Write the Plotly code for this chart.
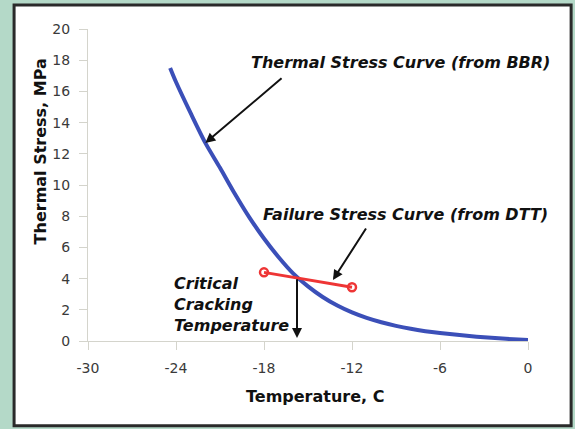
import plotly.graph_objects as go

# Thermal stress curve (from BBR)
bbr_temp = [-24.4, -24, -23, -22, -21, -20, -19, -18, -17, -16, -15, -14, -13, -12,
            -11, -10, -9, -8, -7, -6, -5, -4, -3, -2, -1, 0]
bbr_stress = [17.5, 16.6, 14.6, 12.7, 11.1, 9.45, 7.92, 6.57, 5.37, 4.32, 3.5, 2.82, 2.27, 1.83,
              1.48, 1.2, 0.97, 0.78, 0.63, 0.51, 0.41, 0.32, 0.24, 0.17, 0.11, 0.06]

# Failure stress curve (from DTT)
dtt_temp = [-18, -12]
dtt_stress = [4.4, 3.45]

# Critical cracking temperature
cct_temp = -15.75
cct_stress = 4.05

x_ticks = [-30, -24, -18, -12, -6, 0]
y_ticks = [0, 2, 4, 6, 8, 10, 12, 14, 16, 18, 20]

FONT = "DejaVu Sans"
ann_font = dict(family=FONT, size=16, color="#111111")

fig = go.Figure()
fig.add_trace(go.Scatter(x=bbr_temp, y=bbr_stress, mode="lines",
                         line=dict(color="#3b4fb8", width=4, shape="spline", smoothing=0.8),
                         hoverinfo="skip"))
fig.add_trace(go.Scatter(x=dtt_temp, y=dtt_stress, mode="lines+markers",
                         line=dict(color="#ee3535", width=3),
                         marker=dict(symbol="circle-open", size=8, color="#ee3535",
                                     line=dict(width=2.5, color="#ee3535")),
                         hoverinfo="skip"))

annotations = [
    # arrows
    dict(x=-22.0, y=12.69, ax=-16.7, ay=16.92, xref="x", yref="y", axref="x", ayref="y",
         showarrow=True, arrowhead=2, arrowsize=1, arrowwidth=2, arrowcolor="#111111", text=""),
    dict(x=-13.3, y=3.91, ax=-10.98, ay=7.31, xref="x", yref="y", axref="x", ayref="y",
         showarrow=True, arrowhead=2, arrowsize=1, arrowwidth=2, arrowcolor="#111111", text=""),
    dict(x=cct_temp, y=0.2, ax=cct_temp, ay=cct_stress, xref="x", yref="y", axref="x", ayref="y",
         showarrow=True, arrowhead=2, arrowsize=1, arrowwidth=2, arrowcolor="#111111", text=""),
    # texts
    dict(x=-8.66, y=17.88, xref="x", yref="y", showarrow=False,
         text="<b><i>Thermal Stress Curve (from BBR)</i></b>", font=ann_font),
    dict(x=-8.32, y=8.08, xref="x", yref="y", showarrow=False,
         text="<b><i>Failure Stress Curve (from DTT)</i></b>", font=ann_font),
    dict(x=-24.3, y=2.31, xref="x", yref="y", showarrow=False, xanchor="left", align="left",
         text="<b><i>Critical<br>Cracking<br>Temperature</i></b>", font=ann_font),
    # axis titles
    dict(x=-0.132, y=0.609, xref="paper", yref="paper", showarrow=False, textangle=-90,
         text="<b>Thermal Stress, MPa</b>", font=dict(family=FONT, size=16, color="#111111")),
    dict(x=0.516, y=-0.215, xref="paper", yref="paper", showarrow=False,
         text="<b>Temperature, C</b>", font=dict(family=FONT, size=16, color="#111111")),
]

fig.update_layout(
    width=575, height=429,
    margin=dict(l=88, r=47, t=29, b=88),
    paper_bgcolor="#b4d9c8",
    plot_bgcolor="rgba(0,0,0,0)",
    showlegend=False,
    annotations=annotations,
    shapes=[dict(type="rect", xref="paper", yref="paper", layer="below",
                 x0=-0.168, x1=1.098, y0=-0.272, y1=1.077,
                 fillcolor="white", line=dict(color="#2a2a2a", width=3))],
    xaxis=dict(range=[-30, 0], tickvals=x_ticks, ticktext=[str(v) for v in x_ticks],
               showgrid=False, zeroline=False, showline=True, linecolor="#d4d4cc", linewidth=1,
               ticks="outside", ticklen=8, tickcolor="#d4d4cc",
               tickfont=dict(family=FONT, size=14, color="#3a3a3a"), ticklabelstandoff=6),
    yaxis=dict(range=[0, 20], tickvals=y_ticks, ticktext=[str(v) for v in y_ticks],
               showgrid=False, zeroline=False, showline=True, linecolor="#d4d4cc", linewidth=1,
               ticks="outside", ticklen=8, tickcolor="#d4d4cc",
               tickfont=dict(family=FONT, size=14, color="#3a3a3a"), ticklabelstandoff=6),
)

fig.write_html("out.html", config={"displayModeBar": False},
               post_script="document.body.style.margin='0';document.body.style.padding='0';"
                           "document.body.style.overflow='hidden';")
